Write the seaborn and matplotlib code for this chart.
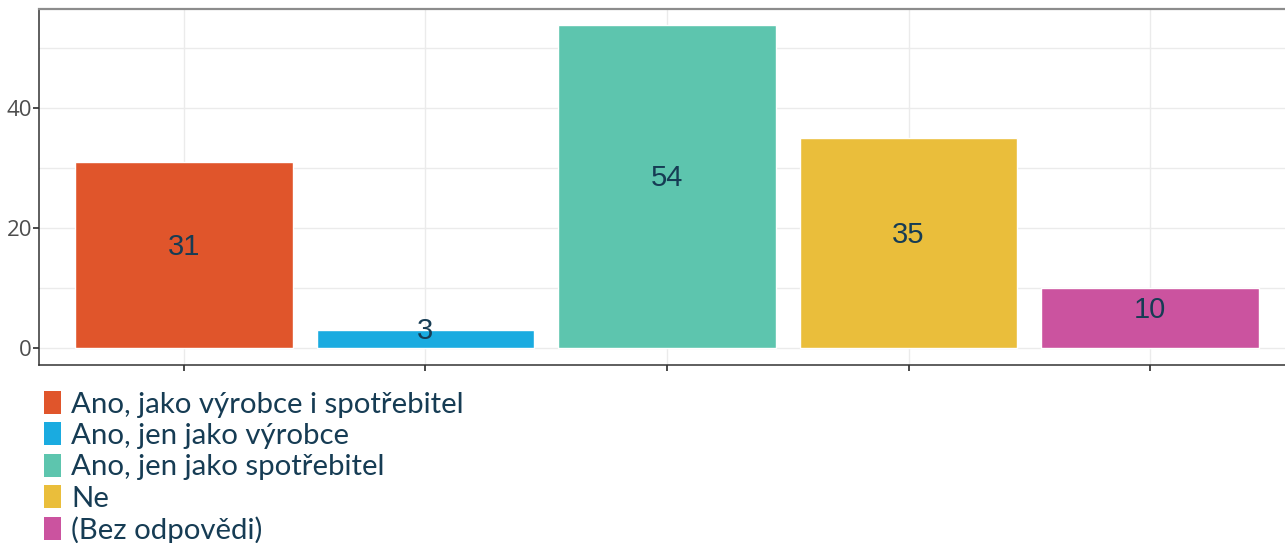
import matplotlib
matplotlib.use("Agg")
import matplotlib.pyplot as plt
import seaborn as sns
import pandas as pd
from matplotlib.patches import Patch

categories = ["Ano, jako výrobce i spotřebitel", "Ano, jen jako výrobce",
              "Ano, jen jako spotřebitel", "Ne", "(Bez odpovědi)"]
values = [31, 3, 54, 35, 10]
colors = ["#E0552B", "#1AABE0", "#5DC5AE", "#EABE3B", "#CB539F"]
yticks = [0, 20, 40]

df = pd.DataFrame({"cat": categories, "val": values})

sns.set_theme(style="white")
plt.rcParams['font.family'] = ['Lato', 'DejaVu Sans']

fig = plt.figure(figsize=(12.85, 5.43), dpi=100)
W, H = 1285, 543
ax = fig.add_axes([39 / W, (H - 365) / H, (1295 - 39) / W, (365 - 9) / H])

sns.barplot(data=df, x="cat", y="val", hue="cat", palette=colors,
            order=categories, hue_order=categories, width=0.9,
            legend=False, ax=ax, saturation=1, zorder=3)

ax.set_xlim(-0.6, 4.6)
ax.set_ylim(-2.9, 56.6)
ax.set_yticks(yticks)
ax.set_yticks([10, 30, 50], minor=True)
ax.set_xticks(range(len(categories)))
ax.set_xticklabels([])
ax.set_xlabel("")
ax.set_ylabel("")
ax.grid(True, which="both", color="#EBEBEB", lw=1.0, zorder=0)
ax.tick_params(axis="y", which="major", labelsize=16, labelcolor="#4D4D4D",
               length=4, color="#333333", left=True, pad=1)
ax.tick_params(axis="y", which="minor", length=0)
ax.tick_params(axis="x", length=4, color="#333333", bottom=True)
for t in ax.get_yticklabels():
    t.set_family(["Open Sans", "DejaVu Sans"])

for s in ["left", "bottom"]:
    ax.spines[s].set_color("#333333")
    ax.spines[s].set_linewidth(1.1)
ax.spines["top"].set_color("#8C8C8C")
ax.spines["top"].set_linewidth(1.6)
ax.spines["right"].set_visible(False)

for i, v in enumerate(values):
    ax.text(i, v / 2, str(v), ha="center", va="baseline", fontsize=21,
            color="#163C54", family=["Liberation Sans", "DejaVu Sans"], zorder=5)

handles = [Patch(facecolor=c, edgecolor="none") for c in colors]
fig.legend(handles, categories, loc="upper left",
           bbox_to_anchor=(44 / W, 1 - 391 / H), frameon=False,
           fontsize=21.2, labelcolor="#163C54", handlelength=0.58,
           handleheight=0.82, handletextpad=0.34, labelspacing=0.16,
           borderpad=0, borderaxespad=0)

fig.savefig("out.png", dpi=100)
